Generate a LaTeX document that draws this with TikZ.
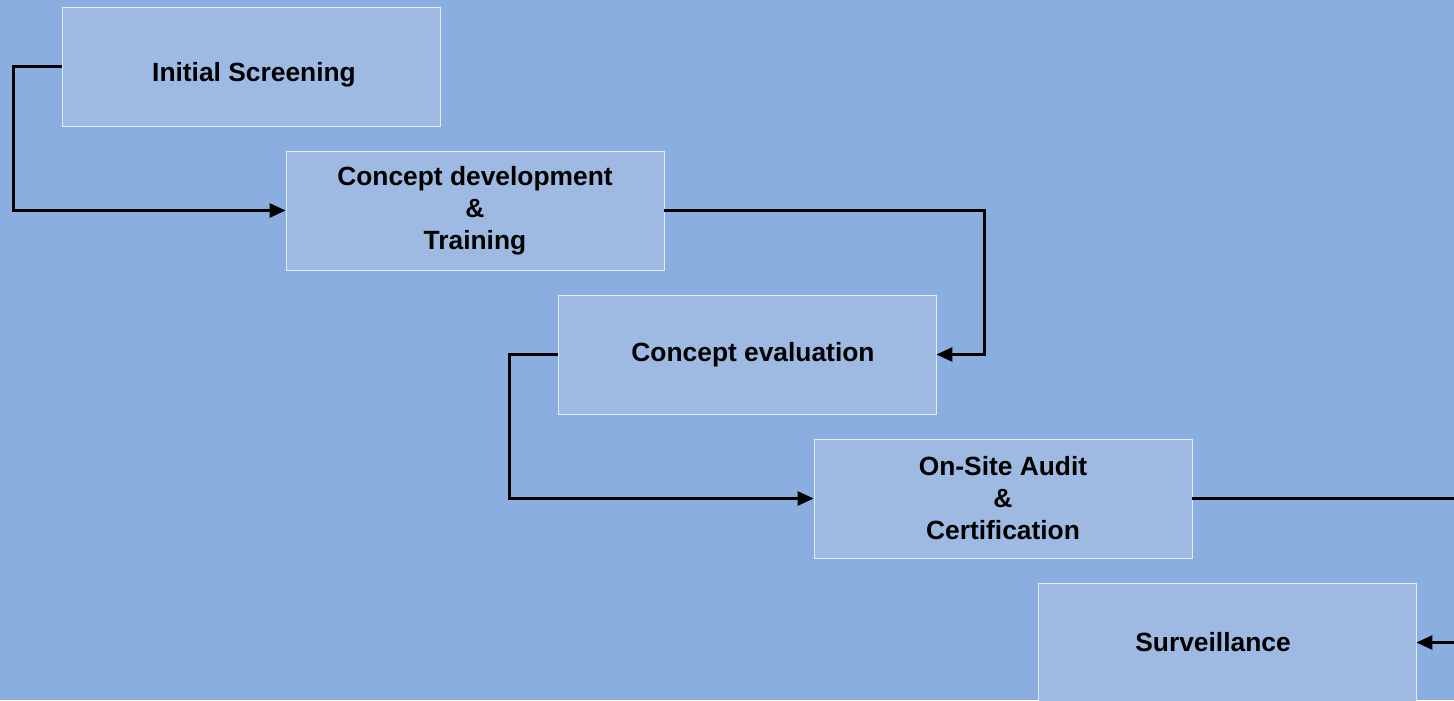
\documentclass[tikz,border=0pt]{standalone}
\usepackage{fontspec}
\setmainfont{Liberation Sans}
\usetikzlibrary{arrows.meta}

\definecolor{bgblue}{HTML}{8AAEE0}
\definecolor{boxblue}{HTML}{9EBAE2}
\definecolor{boxline}{HTML}{E4ECF7}

\tikzset{
  stagebox/.style={rectangle, fill=boxblue, draw=boxline, line width=0.45pt,
    minimum width=7.56cm, minimum height=2.38cm, inner sep=0pt, align=center,
    font=\fontsize{15}{18.2}\selectfont\bfseries},
  flowline/.style={line width=1.5pt, -{Triangle[length=3.2mm,width=2.8mm]}}
}

\begin{document}
\begin{tikzpicture}
   % page and background
   \useasboundingbox (0,0) rectangle (29.08,-14);
   \clip (0,0) rectangle (29.08,-14);
   \fill[bgblue] (0,0) rectangle (29.08,-14);

   % stages
   \node[stagebox] (screen) at (5.02,-1.33) {\hspace*{0.12cm}\raisebox{-0.30cm}[0pt][0pt]{Initial Screening}};
   \node[stagebox] (develop) at (9.5,-4.21) {Concept development\\\&\\Training};
   \node[stagebox] (evaluate) at (14.94,-7.09) {\hspace*{0.24cm}Concept evaluation};
   \node[stagebox] (audit) at (20.06,-9.97) {On-Site Audit\\\&\\Certification};
   \node[stagebox] (survey) at (24.54,-12.85) {\hspace*{-0.56cm}Surveillance};

   % connectors
   \draw[flowline] (screen.west) -- ++(-0.96,0) |- (develop.west);
   \draw[flowline] (develop.east) -- ++(6.4,0) |- (evaluate.east);
   \draw[flowline] (evaluate.west) -- ++(-0.96,0) |- (audit.west);
   \draw[flowline] (audit.east) -- ++(5.6,0) |- (survey.east);
 % \draw[help lines] (0,0) grid (29,-14);
\end{tikzpicture}
\end{document}
